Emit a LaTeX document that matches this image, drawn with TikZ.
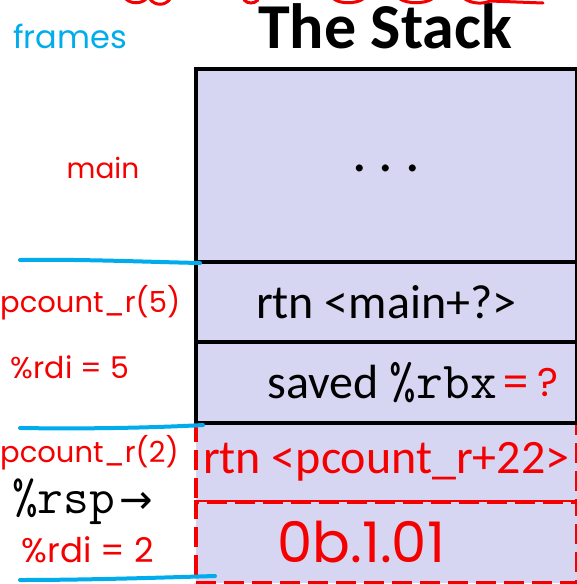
\documentclass[tikz,border=0pt]{standalone}
\usepackage{fontspec}
\setmainfont{Carlito}
\newfontfamily\calibri{Carlito}
\newfontfamily\hand{Poppins}
\newfontfamily\sym{DejaVu Sans}
\definecolor{stackfill}{RGB}{214,214,242}
\definecolor{inkred}{RGB}{245,0,0}
\definecolor{inkblue}{RGB}{0,172,236}
\newcommand{\fs}[1]{\fontsize{#1}{#1}\selectfont}
\tikzset{
  cell/.style={draw=black, line width=3.5pt, fill=stackfill, minimum width=381pt,
    inner sep=0pt, anchor=north west, font=\calibri\fs{48}},
  redcell/.style={draw=inkred, line width=3.5pt, dash pattern=on 20pt off 8pt,
    fill=stackfill, minimum width=381pt, inner sep=0pt, anchor=north west,
    text=inkred, font=\calibri\fs{48}},
  note/.style={text=inkred, font=\hand\fs{30}, inner sep=0pt},
  ink/.style={draw=inkred, line width=3pt, line cap=round},
  frameline/.style={draw=inkblue, line width=4pt, line cap=round},
}
\begin{document}
\begin{tikzpicture}[x=1pt,y=-1pt]
\useasboundingbox (0,0) rectangle (577,584);

% title
\node[font=\calibri\bfseries\fs{64}, inner sep=0pt] (title) at (385,26) {The Stack};

% the current frame (red, dashed)
\node[redcell, minimum height=79pt] (ret) at (194,421) {rtn <pcount\_r+22>};
\node[redcell, minimum height=81pt, font=\hand\fs{56}] (slot) at (194,500) {\hspace*{-50pt}0b.1.01};

% caller frames
\node[cell, minimum height=193pt] (top) at (194,67) {\raisebox{-12pt}{\fs{58}.\hspace{12pt}.\hspace{12pt}.}};
\node[cell, minimum height=80pt] (rtnmain) at (194,260) {rtn <main+?>};
\node[cell, minimum height=81pt] (saved) at (194,340) {\hspace*{-8pt}saved {\ttfamily\fs{52}\%rbx}};

% annotations
\node[text=inkblue, font=\hand\fs{32}, inner sep=0pt] (frames) at (70,36) {frames};
\node[note, font=\hand\fs{28}] (mainlbl) at (103,168) {main};
\node[note, anchor=west, font=\hand\fs{29}] (call5) at (0,303) {pcount\_r(5)};
\node[note] (rdi5) at (70,367) {\%rdi = 5};
\node[note, anchor=west, font=\hand\fs{29}] (call2) at (0,453) {pcount\_r(2)};
\node[inner sep=0pt, anchor=west] (rsp) at (12,502) {{\ttfamily\fs{50}\%rsp}\hspace{4pt}{\sym\fs{40}→}};
\node[note, font=\hand\fs{34}] (rdi2) at (88,550) {\%rdi = 2};
\node[note, font=\hand\fs{40}] (rbxval) at (530,382) {=\,?};

% frame boundaries
\draw[frameline] (20,260) .. controls (80,259) and (150,262) .. (200,263);
\draw[frameline] (20,428) .. controls (80,429) and (150,428) .. (203,425);
\draw[frameline] (20,580) .. controls (80,580) and (150,578) .. (215,576);

% ink strokes running off the top edge
\draw[ink] (126,-1) .. controls (131,4) and (141,4) .. (146,-1);
\draw[ink] (150,-1) .. controls (155,6) and (165,6) .. (170,-1);
\draw[ink] (244,0) .. controls (248,4) and (254,4) .. (258,0);
\draw[ink] (334,-1) .. controls (340,4) and (356,4) .. (363,-1);
\draw[ink] (400,-1) .. controls (408,4) and (424,4) .. (432,-1);
\draw[ink] (465,-1) .. controls (472,4) and (484,4) .. (490,1) -- (543,3);
\end{tikzpicture}
\end{document}
